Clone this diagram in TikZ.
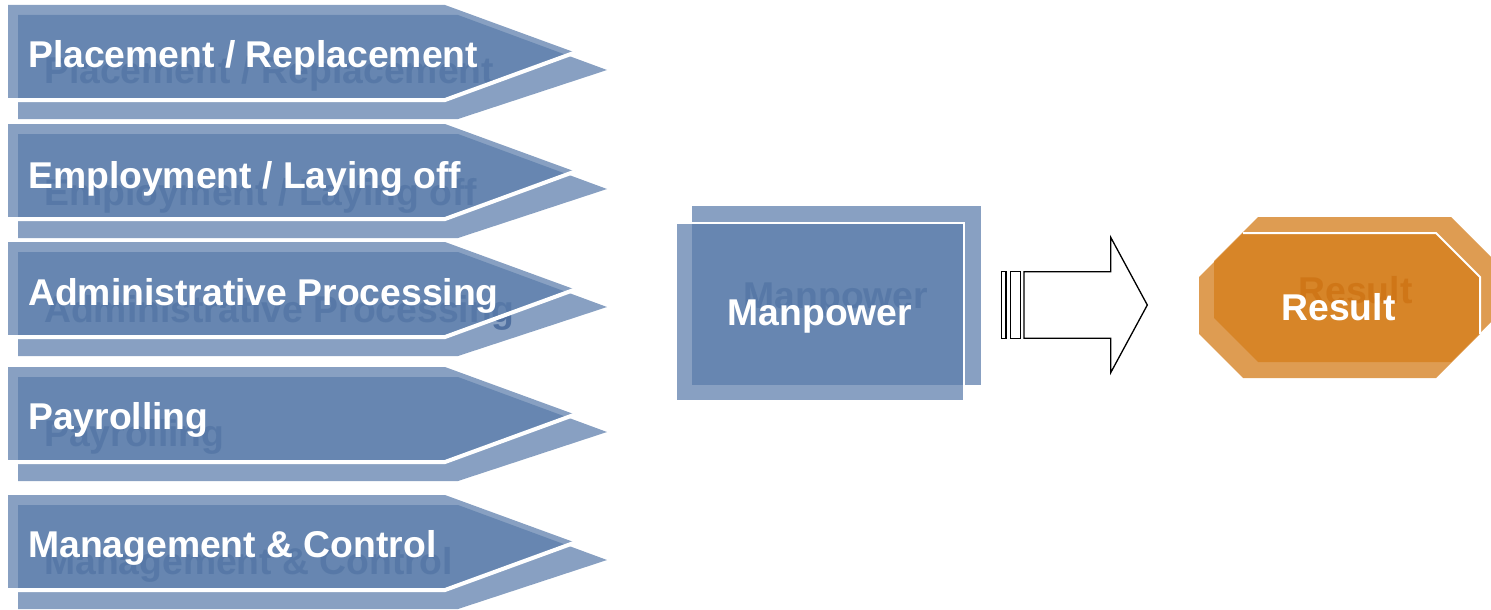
\documentclass[tikz,border=0pt]{standalone}
\usepackage{fontspec}
\setmainfont{Liberation Sans}
\definecolor{blu}{HTML}{5A7CAA}
\definecolor{blushadow}{HTML}{5070A0}
\definecolor{org}{HTML}{D47D1B}
\definecolor{orgshadow}{HTML}{C0620E}
\tikzset{
  bluefill/.style={fill=blu, fill opacity=0.72},
  orgfill/.style={fill=org, fill opacity=0.76},
  edgeline/.style={draw=white, line width=#1, line join=miter},
  lbl/.style={text=white, font=\fontsize{37.3}{44}\selectfont\bfseries, inner sep=0pt},
  blockarrow/.style={draw=black, fill=white, line width=1.3pt, line join=miter},
}
\begin{document}
\begin{tikzpicture}[x=1pt,y=-1pt]
\useasboundingbox (0,0) rectangle (1491,610);
\clip (0,0) rectangle (1491,610);
% left chevrons
\foreach \t/\txt/\n/\dy in {5/{Placement / Replacement}/a/62,
                        124/{Employment / Laying off}/b/64,
                        242/{Administrative Processing}/c/63,
                        367/{Payrolling}/d/62,
                        495/{Management \& Control}/e/62} {
  \fill[bluefill] (18,\t+10) -- (458,\t+10) -- (607,\t+65) -- (458,\t+114) -- (18,\t+114) -- cycle;
  \node[lbl, text=blushadow, anchor=base west] (\n s) at (44,\t+\dy+17) {\txt};
  \fill[bluefill] (8,\t) -- (445,\t) -- (575,\t+47.5) -- (445,\t+95) -- (8,\t+95) -- cycle;
  \draw[edgeline=4pt] (8,\t+95) -- (445,\t+95) -- (575,\t+47.5);
  \node[lbl, anchor=base west] (\n) at (28,\t+\dy) {\txt};
}
% Manpower
\fill[bluefill] (692,206) rectangle (981,385);
\node[lbl, text=blushadow, anchor=base] (mps) at (836,308) {Manpower};
\fill[bluefill] (677,223) rectangle (964,400);
\draw[edgeline=2pt] (677,223) -- (964,223) -- (964,400);
\node[lbl, anchor=base] (mp) at (820,325) {Manpower};
% block arrow
\draw[blockarrow] (1001.7,271.7) rectangle (1006,338.3);
\draw[blockarrow] (1010.7,271.7) rectangle (1020.7,338.3);
\coordinate (tip) at (1147.3,305);
\draw[blockarrow] (1024,271.7) -- (1110.7,271.7) -- (1110.7,237.3) -- (tip)
  -- (1110.7,372.7) -- (1110.7,338.3) -- (1024,338.3) -- cycle;
% Result
\fill[orgfill] (1258,217) -- (1451,217) -- (1495,261) -- (1495,318) -- (1451,362)
  -- (1258,362) -- (1214,318) -- (1214,261) -- cycle;
\node[lbl, text=orgshadow, anchor=base] (rss) at (1355.5,303) {Result};
\fill[orgfill] (1243,233) -- (1436,233) -- (1480,277) -- (1480,334) -- (1436,378)
  -- (1243,378) -- (1199,334) -- (1199,277) -- cycle;
\draw[edgeline=2pt] (1243,233) -- (1436,233) -- (1480,277) -- (1480,334);
\node[lbl, anchor=base] (rs) at (1338.5,320) {Result};
\end{tikzpicture}
\end{document}
